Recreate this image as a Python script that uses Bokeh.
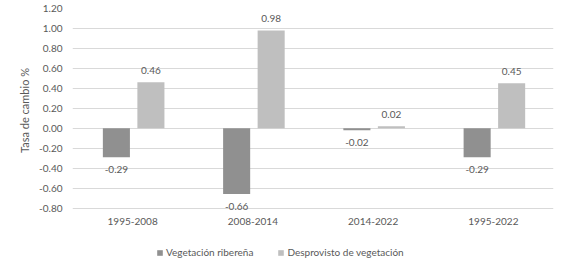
from bokeh.plotting import figure
from bokeh.layouts import column
from bokeh.models import (ColumnDataSource, FactorRange, Range1d, FixedTicker,
                          NumeralTickFormatter, Legend, LegendItem)
from bokeh.transform import dodge
from bokeh.core.properties import value
from bokeh.embed import file_html
from bokeh.resources import INLINE

categories = ["1995-2008", "2008-2014", "2014-2022", "1995-2022"]
vegetacion = [-0.29, -0.66, -0.02, -0.29]
desprovisto = [0.46, 0.98, 0.02, 0.45]
y_ticks = [-0.8, -0.6, -0.4, -0.2, 0.0, 0.2, 0.4, 0.6, 0.8, 1.0, 1.2]
series_names = ["Vegetación ribereña", "Desprovisto de vegetación"]

FONT = "Lato"
TXT = "#595959"
DARK = "#909090"
LIGHT = "#bfbfbf"
OFF_D, OFF_L, BW = -0.135, 0.152, 0.225

def make_src(vals):
    return ColumnDataSource(dict(
        cat=categories,
        val=vals,
        lbl=["%.2f" % v for v in vals],
        yoff=[-12 if v >= 0 else 12 for v in vals],
    ))

src_v = make_src(vegetacion)
src_d = make_src(desprovisto)

p = figure(width=587, height=243, x_range=FactorRange(*categories),
           y_range=Range1d(-0.845, 1.2), output_backend="svg", toolbar_location=None,
           min_border_left=72, min_border_right=34, min_border_top=8, min_border_bottom=31)
p.outline_line_color = None
p.background_fill_color = "white"

r1 = p.vbar(x=dodge("cat", OFF_D, range=p.x_range), top="val", bottom=0, width=BW,
            source=src_v, fill_color=DARK, line_color=None)
r2 = p.vbar(x=dodge("cat", OFF_L, range=p.x_range), top="val", bottom=0, width=BW,
            source=src_d, fill_color=LIGHT, line_color=None)

for src, off in ((src_v, OFF_D), (src_d, OFF_L)):
    p.text(x=dodge("cat", off, range=p.x_range), y="val", text="lbl", y_offset="yoff",
           source=src, text_align="center", text_baseline="middle",
           text_font=value(FONT), text_font_size="10px", text_color=TXT)

p.xgrid.grid_line_color = None
p.ygrid.grid_line_color = "#d9d9d9"
p.ygrid.grid_line_width = 1

p.yaxis.ticker = FixedTicker(ticks=y_ticks)
p.yaxis.formatter = NumeralTickFormatter(format="0.00")
for ax in (p.xaxis, p.yaxis):
    ax.axis_line_color = None
    ax.major_tick_line_color = None
    ax.minor_tick_line_color = None
    ax.major_tick_out = 0
    ax.major_tick_in = 0
    ax.major_label_text_font = FONT
    ax.major_label_text_font_size = "10px"
    ax.major_label_text_color = TXT
p.yaxis.major_label_standoff = 10
p.xaxis.major_label_standoff = 5
p.yaxis.axis_label = "Tasa de cambio %"
p.yaxis.axis_label_text_font = FONT
p.yaxis.axis_label_text_font_size = "11px"
p.yaxis.axis_label_text_font_style = "normal"
p.yaxis.axis_label_text_color = TXT
p.yaxis.axis_label_standoff = 5

# legend strip below the chart
lg = figure(width=587, height=18, x_range=Range1d(0, 1), y_range=Range1d(0, 1),
            output_backend="svg", toolbar_location=None,
            min_border_left=0, min_border_right=0, min_border_top=0, min_border_bottom=0)
lg.axis.visible = False
lg.grid.visible = False
lg.outline_line_color = None
lsrc = ColumnDataSource(dict(x=[0.5], top=[0.0]))
g1 = lg.vbar(x="x", top="top", bottom=0, width=0.0, source=lsrc, fill_color=DARK, line_color=None)
g2 = lg.vbar(x="x", top="top", bottom=0, width=0.0, source=lsrc, fill_color=LIGHT, line_color=None)

legend = Legend(items=[LegendItem(label=series_names[0], renderers=[g1]),
                       LegendItem(label=series_names[1], renderers=[g2])],
                orientation="horizontal", location=(84, 3),
                label_text_font=FONT, label_text_font_size="10px", label_text_color=TXT,
                glyph_width=7, glyph_height=7, label_standoff=3, spacing=24,
                border_line_color=None, background_fill_alpha=0,
                padding=0, margin=0, label_height=12)
lg.add_layout(legend, "center")

layout = column(p, lg, spacing=0)
open("out.html", "w").write(file_html(layout, INLINE))
